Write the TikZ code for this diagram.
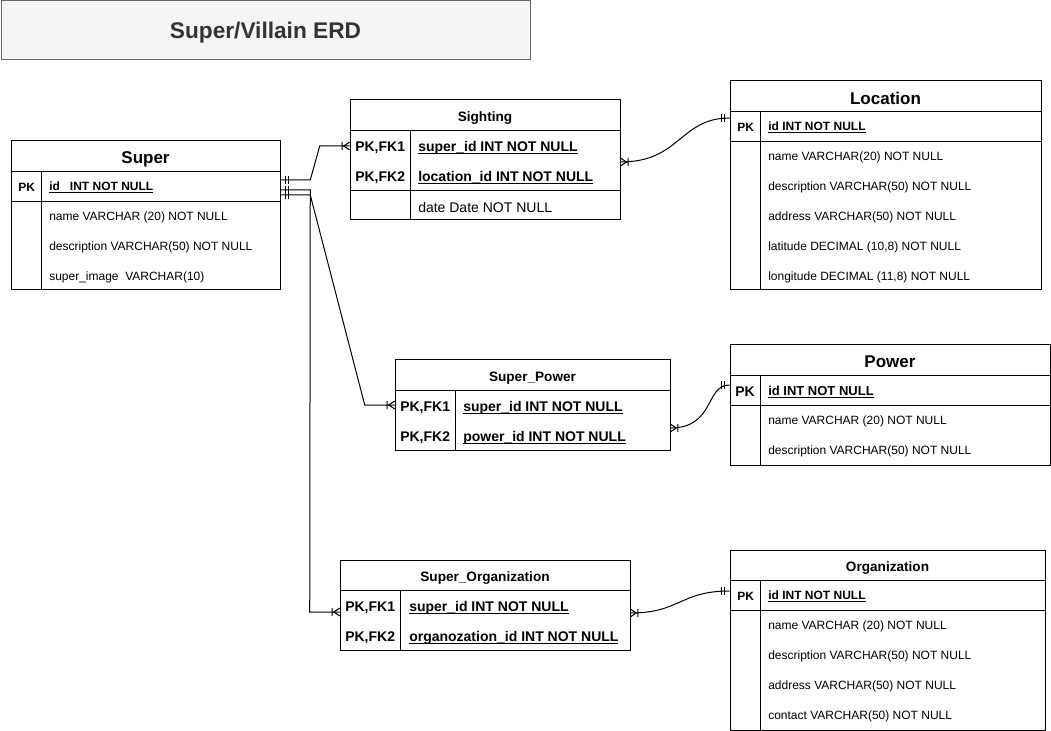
\documentclass[tikz,border=0pt]{standalone}
\usepackage{fontspec}
\setmainfont{Liberation Sans}
\usetikzlibrary{fit,calc}
\definecolor{titlefill}{HTML}{F5F5F5}
\definecolor{titleline}{HTML}{666666}
\definecolor{titletext}{HTML}{333333}
\newcommand\myul[1]{\setbox0\hbox{#1}\rlap{\rule[-1.8pt]{\wd0}{0.6pt}}\box0}
\tikzset{
  tbl/.style={draw, inner sep=0pt, line width=0.75pt},
  rowcell/.style={inner sep=0pt},
  ftwelve/.style={anchor=west, inner sep=0pt, yshift=-0.75pt, font=\fontsize{9}{11}\selectfont},
  ftwelveb/.style={anchor=west, inner sep=0pt, yshift=-0.75pt, font=\fontsize{9}{11}\selectfont\bfseries},
  fthirteenb/.style={anchor=west, inner sep=0pt, yshift=-1.5pt, font=\fontsize{9.75}{12}\selectfont\bfseries},
  ffourteen/.style={anchor=west, inner sep=0pt, yshift=-1.5pt, font=\fontsize{10.5}{13}\selectfont},
  ffourteenb/.style={anchor=west, inner sep=0pt, yshift=-2.25pt, font=\fontsize{10.5}{13}\selectfont\bfseries},
  hdrbig/.style={inner sep=0pt, yshift=-1.5pt, font=\fontsize{12.75}{15}\selectfont\bfseries},
  hdrsmall/.style={inner sep=0pt, yshift=-2.25pt, font=\fontsize{10.2}{12}\selectfont\bfseries},
  conn/.style={line width=0.75pt},
  mandone/.pic={\draw[line width=0.75pt] (5,-4)--(5,4) (8,-4)--(8,4);},
  onemany/.pic={\draw[line width=0.75pt] (0,-4)--(6,0)--(0,4) (7.5,-4)--(7.5,4);},
}
\begin{document}
\begin{tikzpicture}[x=0.75pt,y=-0.75pt]
\useasboundingbox (0,0) rectangle (1051,731);

% ---------- title ----------
\node[fit={(1,1)(530,60)}, inner sep=0pt, draw=titleline, fill=titlefill, line width=0.75pt] (title) {};
\node[inner sep=0pt, yshift=-1.5pt, text=titletext, font=\fontsize{17}{20}\selectfont\bfseries] (titletxt) at (title.center) {Super/Villain ERD};

% ---------- Super ----------
\node[tbl, fit={(11,141)(280,290)}] (super) {};
\node[rowcell, fit={(11,141)(280,171)}] (sup-h) {};
\node[rowcell, fit={(11,171)(280,201)}] (sup-pk) {};
\draw (11,171)--(280,171) (11,201)--(280,201) (41,171)--(41,290);
\node[hdrbig, yshift=-0.75pt] (sup-title) at (sup-h.center) {Super};
\node[ftwelveb] (sup-pkl) at (18,186) {PK};
\node[ftwelveb] (sup-id) at (49,186) {\myul{id\ \ \ INT NOT NULL}};
\node[ftwelve] (sup-f1) at (49,216) {name VARCHAR (20) NOT NULL};
\node[ftwelve] (sup-f2) at (49,246) {description VARCHAR(50) NOT NULL};
\node[ftwelve] (sup-f3) at (49,276) {super\_image\ \ VARCHAR(10)};

% ---------- Sighting ----------
\node[tbl, fit={(350,100)(620,220)}] (sighting) {};
\node[rowcell, fit={(350,100)(620,130)}] (sig-h) {};
\node[rowcell, fit={(350,130)(620,160)}] (sig-r1) {};
\node[rowcell, fit={(350,160)(620,190)}] (sig-r2) {};
\draw (350,130)--(620,130) (350,190)--(620,190) (410,130)--(410,220);
\node[hdrsmall] (sig-title) at (sig-h.center) {Sighting};
\node[ffourteenb] (sig-k1) at (355,145) {PK,FK1};
\node[ffourteenb] (sig-f1) at (418,145) {\myul{super\_id INT NOT NULL}};
\node[ffourteenb] (sig-k2) at (355,175) {PK,FK2};
\node[ffourteenb] (sig-f2) at (418,175) {\myul{location\_id INT NOT NULL}};
\node[ffourteen] (sig-f3) at (418,205) {date Date NOT NULL};

% ---------- Location ----------
\node[tbl, fit={(730,81)(1041,290)}] (location) {};
\node[rowcell, fit={(730,81)(1041,111)}] (loc-h) {};
\node[rowcell, fit={(730,111)(1041,141)}] (loc-pk) {};
\draw (730,111)--(1041,111) (730,141)--(1041,141) (760,111)--(760,290);
\node[hdrbig] (loc-title) at (loc-h.center) {Location};
\node[ftwelveb] (loc-pkl) at (737,126) {PK};
\node[ftwelveb] (loc-id) at (768,126) {\myul{id INT NOT NULL}};
\node[ftwelve] (loc-f1) at (768,156) {name VARCHAR(20) NOT NULL};
\node[ftwelve] (loc-f2) at (768,186) {description VARCHAR(50) NOT NULL};
\node[ftwelve] (loc-f3) at (768,216) {address VARCHAR(50) NOT NULL};
\node[ftwelve] (loc-f4) at (768,246) {latitude DECIMAL (10,8) NOT NULL};
\node[ftwelve] (loc-f5) at (768,276) {longitude DECIMAL (11,8) NOT NULL};

% ---------- Super_Power ----------
\node[tbl, fit={(395,360)(670,450)}] (superpower) {};
\node[rowcell, fit={(395,360)(670,390)}] (sp-h) {};
\node[rowcell, fit={(395,390)(670,420)}] (sp-r1) {};
\node[rowcell, fit={(395,420)(670,450)}] (sp-r2) {};
\draw (395,390)--(670,390) (455,390)--(455,450);
\node[hdrsmall] (sp-title) at (sp-h.center) {Super\_Power};
\node[ffourteenb] (sp-k1) at (400,405) {PK,FK1};
\node[ffourteenb] (sp-f1) at (463,405) {\myul{super\_id INT NOT NULL}};
\node[ffourteenb] (sp-k2) at (400,435) {PK,FK2};
\node[ffourteenb] (sp-f2) at (463,435) {\myul{power\_id INT NOT NULL}};

% ---------- Power ----------
\node[tbl, fit={(730,345)(1050,465)}] (power) {};
\node[rowcell, fit={(730,345)(1050,375)}] (pow-h) {};
\node[rowcell, fit={(730,375)(1050,405)}] (pow-pk) {};
\draw (730,375)--(1050,375) (730,405)--(1050,405) (760,375)--(760,465);
\node[hdrbig] (pow-title) at (pow-h.center) {Power};
\node[ffourteenb, yshift=0.75pt] (pow-pkl) at (735,390) {PK};
\node[fthirteenb] (pow-id) at (768,390) {\myul{id INT NOT NULL}};
\node[ftwelve] (pow-f1) at (768,420) {name VARCHAR (20) NOT NULL};
\node[ftwelve] (pow-f2) at (768,450) {description VARCHAR(50) NOT NULL};

% ---------- Super_Organization ----------
\node[tbl, fit={(340,560)(630,650)}] (superorg) {};
\node[rowcell, fit={(340,560)(630,590)}] (so-h) {};
\node[rowcell, fit={(340,590)(630,620)}] (so-r1) {};
\node[rowcell, fit={(340,620)(630,650)}] (so-r2) {};
\draw (340,590)--(630,590) (400,590)--(400,650);
\node[hdrsmall] (so-title) at (so-h.center) {Super\_Organization};
\node[ffourteenb] (so-k1) at (345,605) {PK,FK1};
\node[ffourteenb] (so-f1) at (409,605) {\myul{super\_id INT NOT NULL}};
\node[ffourteenb] (so-k2) at (345,635) {PK,FK2};
\node[ffourteenb] (so-f2) at (409,635) {\myul{organozation\_id INT NOT NULL}};

% ---------- Organization ----------
\node[tbl, fit={(730,550)(1045,730)}] (organization) {};
\node[rowcell, fit={(730,550)(1045,580)}] (org-h) {};
\node[rowcell, fit={(730,580)(1045,610)}] (org-pk) {};
\draw (730,580)--(1045,580) (730,610)--(1045,610) (760,580)--(760,730);
\node[hdrsmall] (org-title) at (org-h.center) {Organization};
\node[ftwelveb] (org-pkl) at (737,595) {PK};
\node[ftwelveb] (org-id) at (768,595) {\myul{id INT NOT NULL}};
\node[ftwelve] (org-f1) at (768,625) {name VARCHAR (20) NOT NULL};
\node[ftwelve] (org-f2) at (768,655) {description VARCHAR(50) NOT NULL};
\node[ftwelve] (org-f3) at (768,685) {address VARCHAR(50) NOT NULL};
\node[ftwelve] (org-f4) at (768,715) {contact VARCHAR(50) NOT NULL};

% ---------- connector end points ----------
\coordinate (e1s) at ($(sup-pk.east)+(0,-6)$);
\coordinate (e1e) at ($(sig-r1.west)+(0,1)$);
\coordinate (e2s) at ($(sup-pk.east)+(0,9)$);
\coordinate (e2e) at (sp-r1.west);
\coordinate (e3s) at ($(sup-pk.east)+(0,4)$);
\coordinate (e3e) at ($(so-r1.west)+(0,7)$);
\coordinate (e4s) at ($(sighting.east)+(0,2)$);
\coordinate (e4e) at ($(loc-pk.west)+(0,-8)$);
\coordinate (e5s) at ($(sp-r2.east)+(0,-7)$);
\coordinate (e5e) at ($(pow-pk.west)+(0,-5)$);
\coordinate (e6s) at ($(so-r1.east)+(0,8)$);
\coordinate (e6e) at ($(org-pk.west)+(0,-4)$);

% ---------- connectors ----------
\draw[conn] (e1s) -- ++(30,0) -- ($(e1e)+(-30,0)$) -- (e1e);
\draw[conn] (e2s) -- ++(30,0) -- ($(e2e)+(-30,0)$) -- (e2e);
\draw[conn] (e3s) -- ++(30,0) -- ($(e3e)+(-30,0)$) -- (e3e);
\draw[conn] (e4s) .. controls ($(e4s)+(60,0)$) and ($(e4e)+(-50,0)$) .. (e4e);
\draw[conn] (e5s) .. controls ($(e5s)+(45,0)$) and ($(e5e)+(-25,0)$) .. (e5e);
\draw[conn] (e6s) .. controls ($(e6s)+(50,0)$) and ($(e6e)+(-50,0)$) .. (e6e);

% ---------- end marks ----------
\path (e1s) pic {mandone};
\path (e2s) pic {mandone};
\path (e3s) pic {mandone};
\path (e1e) pic[rotate=180] {onemany};
\path (e2e) pic[rotate=180] {onemany};
\path (e3e) pic[rotate=180] {onemany};
\path (e4s) pic {onemany};
\path (e5s) pic {onemany};
\path (e6s) pic {onemany};
\path (e4e) pic[rotate=180] {mandone};
\path (e5e) pic[rotate=180] {mandone};
\path (e6e) pic[rotate=180] {mandone};
\end{tikzpicture}
\end{document}
